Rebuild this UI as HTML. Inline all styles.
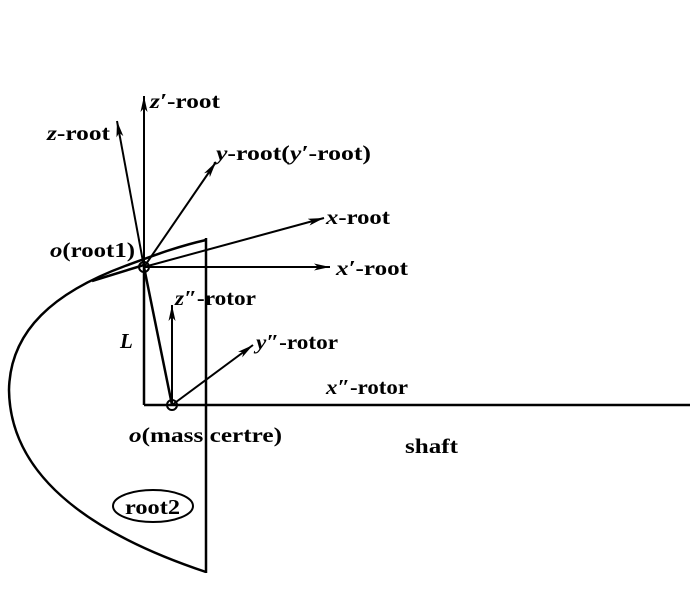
<!DOCTYPE html>
<html><head><style>
body{margin:0;background:#fff;}
svg text{font-family:"Liberation Serif",serif;font-weight:bold;font-size:21px;fill:#000;}
.i{font-style:italic;}
</style></head><body>
<svg width="700" height="600" viewBox="0 0 700 600" xmlns="http://www.w3.org/2000/svg">
<defs><marker id="a" viewBox="0 0 16 7" refX="16" refY="3.5" markerWidth="16" markerHeight="7" markerUnits="userSpaceOnUse" orient="auto"><path d="M0,0 L16,3.5 L0,7 L4,3.5 Z" fill="#000"/></marker></defs>
<g stroke="#000" stroke-width="2.5" fill="none">
<path d="M206,240 C175,247 150,257 125,266 C55,292 10,330 9,390 C10,470 80,530 206,572"/>
<line x1="206" y1="238" x2="206" y2="573"/>
<line x1="92" y1="281" x2="144" y2="265"/>
<line x1="144" y1="405" x2="690" y2="405"/>
<line x1="144" y1="267" x2="144" y2="405"/>
<line x1="144" y1="267" x2="172" y2="405"/>
</g>
<g stroke="#000" stroke-width="2" fill="none" marker-end="url(#a)">
<line x1="144" y1="267" x2="144" y2="96"/>
<line x1="144" y1="267" x2="117" y2="121"/>
<line x1="144" y1="267" x2="216" y2="162"/>
<line x1="144" y1="267" x2="324" y2="218"/>
<line x1="144" y1="267" x2="330" y2="267"/>
<line x1="172" y1="405" x2="172" y2="305"/>
<line x1="172" y1="405" x2="253" y2="345"/>
</g>
<circle cx="144" cy="267" r="5" stroke="#000" stroke-width="2" fill="none"/>
<circle cx="172" cy="405" r="5" stroke="#000" stroke-width="2" fill="none"/>
<ellipse cx="153" cy="506" rx="40" ry="16" stroke="#000" stroke-width="2" fill="none"/>
<text x="150" y="108" textLength="70" lengthAdjust="spacingAndGlyphs"><tspan class="i">z′</tspan>-root</text>
<text x="47" y="140" textLength="63" lengthAdjust="spacingAndGlyphs"><tspan class="i">z</tspan>-root</text>
<text x="216" y="160" textLength="155" lengthAdjust="spacingAndGlyphs"><tspan class="i">y</tspan>-root(<tspan class="i">y′</tspan>-root)</text>
<text x="326" y="224" textLength="64" lengthAdjust="spacingAndGlyphs"><tspan class="i">x</tspan>-root</text>
<text x="50" y="257" textLength="85" lengthAdjust="spacingAndGlyphs"><tspan class="i">o</tspan>(root1)</text>
<text x="336" y="275" textLength="72" lengthAdjust="spacingAndGlyphs"><tspan class="i">x′</tspan>-root</text>
<text x="175" y="305" textLength="81" lengthAdjust="spacingAndGlyphs"><tspan class="i">z″</tspan>-rotor</text>
<text x="120" y="348" class="i">L</text>
<text x="256" y="349" textLength="82" lengthAdjust="spacingAndGlyphs"><tspan class="i">y″</tspan>-rotor</text>
<text x="326" y="394" textLength="82" lengthAdjust="spacingAndGlyphs"><tspan class="i">x″</tspan>-rotor</text>
<text x="129" y="442" textLength="153" lengthAdjust="spacingAndGlyphs"><tspan class="i">o</tspan>(mass certre)</text>
<text x="405" y="453" textLength="53" lengthAdjust="spacingAndGlyphs">shaft</text>
<text x="125" y="514" textLength="55" lengthAdjust="spacingAndGlyphs">root2</text>
</svg>
</body></html>
